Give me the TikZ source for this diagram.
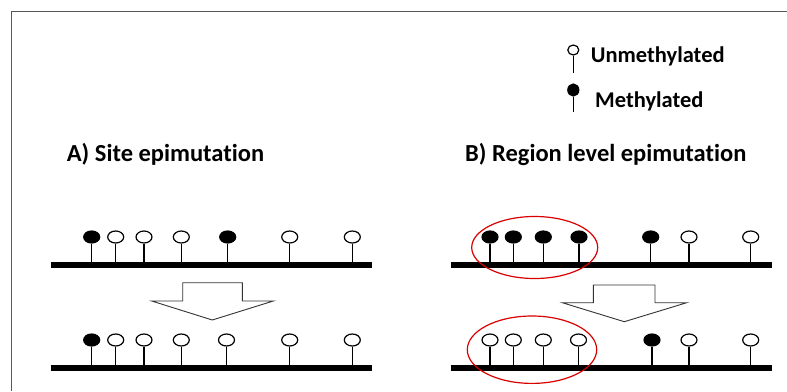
\documentclass[tikz,border=0pt]{standalone}
\usepackage{fontspec}
\setmainfont[Ligatures={NoCommon}]{Carlito}
\usetikzlibrary{shapes.geometric}
\newcommand\pin[5]{%
  \node[#5] (#1) at (#2,#3) {};
  \coordinate (#1b) at (#2,#4);
  \draw[stem] (#1.south) -- (#1b);}
\begin{document}
\begin{tikzpicture}[x=1pt,y=-1pt,
  site/.style={ellipse, draw=black, line width=1.2pt, minimum width=16pt, minimum height=12pt, inner sep=0pt, fill=white},
  meth/.style={site, fill=black},
  lsite/.style={site, minimum width=11pt, minimum height=10pt},
  lmeth/.style={meth, minimum width=11pt, minimum height=12pt},
  stem/.style={line width=1.2pt},
  bar/.style={line width=6pt},
  lbl/.style={font=\bfseries\fontsize{22.5}{26}\selectfont, anchor=west, inner sep=0pt},
  ttl/.style={font=\bfseries\fontsize{24.5}{28}\selectfont, anchor=west, inner sep=0pt},
  fat/.style={draw=black!80, line width=0.9pt, fill=white, line join=miter},
  region/.style={draw=red!85!black, line width=1.2pt}]
\useasboundingbox (0,0) rectangle (787,391);
\draw[black!65, line width=1pt] (11,391) -- (11,11) -- (787,11);

% legend
\pin{lu}{573.3}{50}{73}{lsite}
\pin{lm}{573.3}{90}{111.7}{lmeth}
\node[lbl] (tu) at (590.7,56.7) {Unmethylated};
\node[lbl] (tm) at (595,101) {Methylated};

% titles
\node[ttl] (ta) at (66.7,154) {A) Site epimutation};
\node[ttl] (tb) at (465,154) {B) Region level epimutation};

% bars
\coordinate (a1l) at (51,265); \coordinate (a1r) at (372,265);
\coordinate (a2l) at (51,368); \coordinate (a2r) at (372,368);
\coordinate (b1l) at (451,265); \coordinate (b1r) at (772,265);
\coordinate (b2l) at (451,368); \coordinate (b2r) at (772,368);
\draw[bar] (a1l) -- (a1r);
\draw[bar] (a2l) -- (a2r);
\draw[bar] (b1l) -- (b1r);
\draw[bar] (b2l) -- (b2r);

% A top
\pin{at1}{91.7}{237}{265}{meth}
\pin{at2}{115.7}{237}{265}{site}
\pin{at3}{144}{237}{265}{site}
\pin{at4}{181.3}{237}{265}{site}
\pin{at5}{227.7}{237}{265}{meth}
\pin{at6}{289.7}{237}{265}{site}
\pin{at7}{352.3}{237}{265}{site}
% A bottom
\pin{ab1}{91.7}{340}{368}{meth}
\pin{ab2}{115.7}{340}{368}{site}
\pin{ab3}{144}{340}{368}{site}
\pin{ab4}{181.3}{340}{368}{site}
\pin{ab5}{226.5}{340}{368}{site}
\pin{ab6}{289.7}{340}{368}{site}
\pin{ab7}{352.3}{340}{368}{site}
% B top
\pin{bt1}{490}{237}{265}{meth}
\pin{bt2}{513.3}{237}{265}{meth}
\pin{bt3}{543.3}{237}{265}{meth}
\pin{bt4}{579}{237}{265}{meth}
\pin{bt5}{650.7}{237}{265}{meth}
\pin{bt6}{689}{237}{265}{site}
\pin{bt7}{750.7}{237}{265}{site}
% B bottom
\pin{bb1}{490}{340}{368}{site}
\pin{bb2}{513.3}{340}{368}{site}
\pin{bb3}{543.3}{340}{368}{site}
\pin{bb4}{578.5}{340}{368}{site}
\pin{bb5}{652}{340}{368}{meth}
\pin{bb6}{689}{340}{368}{site}
\pin{bb7}{750.7}{340}{368}{site}

% fat arrows
\draw[fat] (182.7,282.7) -- (242.3,282.7) -- (242.3,301) -- (273.3,301) -- (212.3,320) -- (151.7,301) -- (182.7,301) -- cycle;
\draw[fat] (593.3,285) -- (655,285) -- (655,302.7) -- (686.7,302.7) -- (624.3,321.7) -- (562.3,302.7) -- (593.3,302.7) -- cycle;

% region ellipses
\draw[region] (534.7,247.5) ellipse [x radius=63pt, y radius=31pt];
\draw[region] (532,349.7) ellipse [x radius=64.7pt, y radius=33.7pt];
\end{tikzpicture}
\end{document}
